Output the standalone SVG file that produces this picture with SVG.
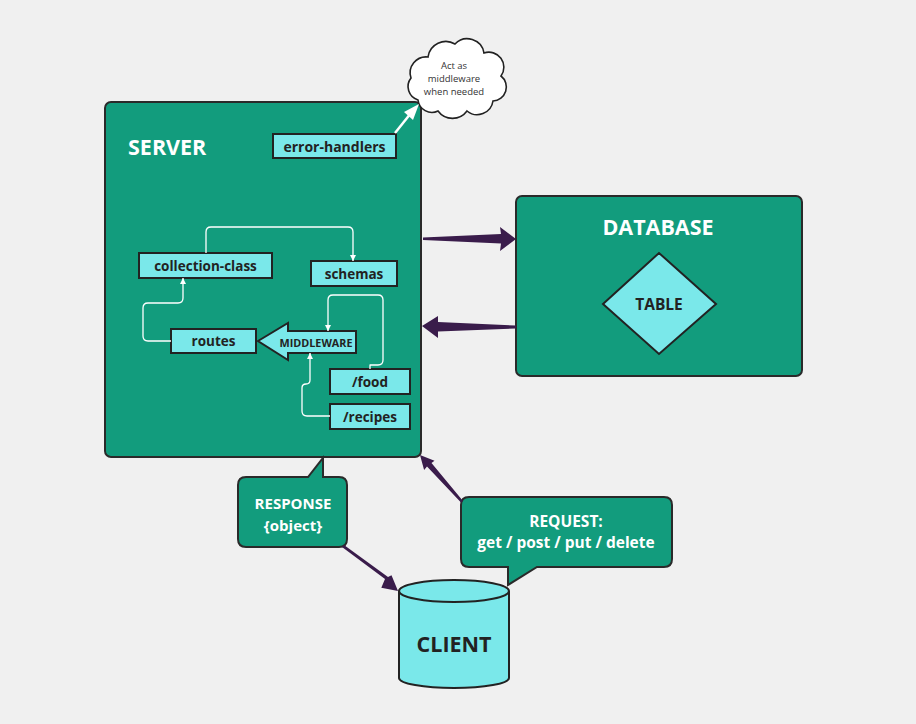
<svg xmlns="http://www.w3.org/2000/svg" width="916" height="724" viewBox="0 0 916 724">
<defs>
<style>
.bg{fill:#f0f0f0}
.teal{fill:#129c7d;stroke:#2a2a2a;stroke-width:2}
.cyan{fill:#7ae8ea;stroke:#222;stroke-width:2}
.lbl{font-family:"Open Sans","Liberation Sans",sans-serif;font-weight:bold;fill:#222;text-anchor:middle;dominant-baseline:central}
.wt{font-family:"Open Sans","Liberation Sans",sans-serif;font-weight:bold;fill:#fff;text-anchor:middle;dominant-baseline:central}
.ct{font-family:"Open Sans","Liberation Sans",sans-serif;font-size:9.5px;fill:#333;text-anchor:middle;dominant-baseline:central}
.wire{fill:none;stroke:#fff;stroke-width:1.3;stroke-linejoin:round}
.pa{fill:#3a1c4b}
</style>
<marker id="wa" viewBox="0 0 10 10" refX="10" refY="5" markerWidth="6" markerHeight="8" markerUnits="userSpaceOnUse" orient="auto">
<path d="M0,0 L10,5 L0,10 Z" fill="#fff"/>
</marker>
</defs>
<rect class="bg" x="0" y="0" width="916" height="724"/>

<g id="server">
<rect class="teal" x="105" y="102" width="316" height="355" rx="6"/>
<text class="wt" x="128" y="146" font-size="21.5" style="text-anchor:start">SERVER</text>
</g>

<g id="cloud">
<path d="M418,100 A14,14 0 0 1 411,78 A16,16 0 0 1 428,57 A18,18 0 0 1 455,44 A17,17 0 0 1 484,53 A15,15 0 0 1 501,76 A14,14 0 0 1 493,101 A16,16 0 0 1 467,111 A18,18 0 0 1 438,111 A14,14 0 0 1 418,100 Z" fill="#fff" stroke="#222" stroke-width="1.6"/>
<text class="ct" x="454" y="65">Act as</text>
<text class="ct" x="454" y="78">middleware</text>
<text class="ct" x="454" y="91">when needed</text>
</g>

<g id="error-handlers">
<rect class="cyan" x="273" y="134" width="123" height="24"/>
<text class="lbl" x="334.5" y="146" font-size="14">error-handlers</text>
</g>

<g id="collection-class">
<rect class="cyan" x="139" y="253" width="133" height="25"/>
<text class="lbl" x="205.5" y="265.5" font-size="13.5">collection-class</text>
</g>

<g id="schemas">
<rect class="cyan" x="311" y="261" width="86" height="25"/>
<text class="lbl" x="354" y="273.5" font-size="13.5">schemas</text>
</g>

<g id="routes">
<rect class="cyan" x="171" y="329" width="85" height="24"/>
<text class="lbl" x="213.5" y="341" font-size="13.5">routes</text>
</g>

<g id="middleware">
<polygon class="cyan" points="258,341 288,323 288,331 356,331 356,353 288,353 288,360"/>
<text class="lbl" x="316" y="342" font-size="10.8">MIDDLEWARE</text>
</g>

<g id="food">
<rect class="cyan" x="330" y="369" width="80" height="25"/>
<text class="lbl" x="370" y="381.5" font-size="13.5">/food</text>
</g>

<g id="recipes">
<rect class="cyan" x="330" y="404" width="80" height="25"/>
<text class="lbl" x="370" y="416.5" font-size="13.5">/recipes</text>
</g>

<g id="database">
<rect class="teal" x="516" y="196" width="286" height="180" rx="6"/>
<text class="wt" x="658" y="226" font-size="21.5">DATABASE</text>
</g>

<g id="table">
<polygon class="cyan" points="603,304 659,253 716,304 659,354"/>
<text class="lbl" x="659" y="304" font-size="15.5">TABLE</text>
</g>

<g id="response">
<path class="teal" d="M246,477 L308,477 L323,458 L323,477 L339,477 Q347,477 347,485 L347,539 Q347,547 339,547 L246,547 Q238,547 238,539 L238,485 Q238,477 246,477 Z"/>
<text class="wt" x="293" y="503" font-size="15">RESPONSE</text>
<text class="wt" x="293" y="525" font-size="15">{object}</text>
</g>

<g id="request">
<path class="teal" d="M469,497 L664,497 Q672,497 672,505 L672,559 Q672,567 664,567 L537,567 L508,585 L508,567 L469,567 Q461,567 461,559 L461,505 Q461,497 469,497 Z"/>
<text class="wt" x="566" y="521" font-size="15.5">REQUEST:</text>
<text class="wt" x="566" y="542" font-size="15.5">get / post / put / delete</text>
</g>

<g id="client">
<path d="M399,591 L399,678 A55,10 0 0 0 509,678 L509,591" fill="#7ae8ea" stroke="#222" stroke-width="2"/>
<ellipse cx="454" cy="591" rx="55" ry="11" fill="#7ae8ea" stroke="#222" stroke-width="2"/>
<text class="lbl" x="454" y="643" font-size="21.5">CLIENT</text>
</g>

<g id="connectors">
<path class="wire" d="M206,253 L206,232 Q206,227 211,227 L348,227 Q353,227 353,232 L353,261" marker-end="url(#wa)"/>
<path class="wire" d="M171,341 L148,341 Q143,341 143,336 L143,308 Q143,303 148,303 L178,303 Q183,303 183,298 L183,278" marker-end="url(#wa)"/>
<path class="wire" d="M370,369 L370,365 L378,365 Q383,365 383,360 L383,300 Q383,295 378,295 L333,295 Q328,295 328,300 L328,331" marker-end="url(#wa)"/>
<path class="wire" d="M330,416 L307,416 Q302,416 302,411 L302,388 Q302,384 306,384 L306,384 Q310,384 310,380 L310,353" marker-end="url(#wa)"/>
<path d="M395,133 L411,113" stroke="#fff" stroke-width="2.5" fill="none"/>
<polygon points="419,104 413,120 404,112" fill="#fff"/>
<polygon class="pa" points="423,237.5 501,234 500,227 516,239 500,251 501,243.5 423,240"/>
<polygon class="pa" points="516,325.5 438,322 438,316 422,326 438,338 438,331.5 516,328.5"/>
<polygon class="pa" points="463,501 431.5,463 434.5,460.7 420,455 424.1,470.1 427,466.5 461,502.5"/>
<polygon class="pa" points="342,547 385,579 381.3,587.7 398,591 391.5,575.3 388,577 344,545"/>
</g>
</svg>
